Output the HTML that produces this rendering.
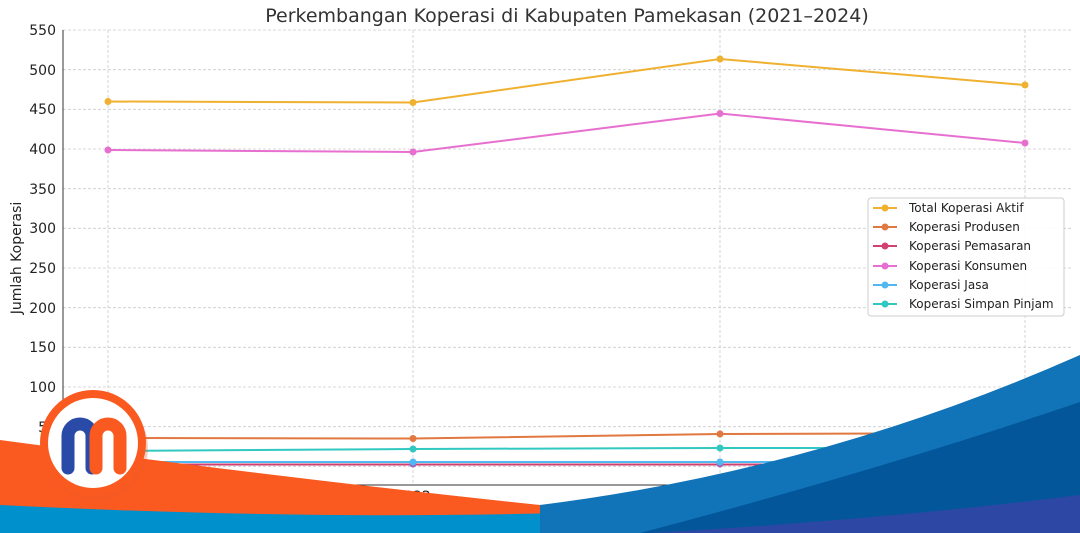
<!DOCTYPE html><html><head><style>body{margin:0;background:#fff}svg{display:block}</style></head><body>
<svg width="1080" height="533" viewBox="0 0 1080 533" xmlns="http://www.w3.org/2000/svg" font-family="DejaVu Sans, Liberation Sans, sans-serif">
<rect width="1080" height="533" fill="#fff"/>
<text x="567" y="22" font-size="19" fill="#333" text-anchor="middle">Perkembangan Koperasi di Kabupaten Pamekasan (2021–2024)</text>
<g stroke="#ccc" stroke-dasharray="3,2" stroke-width="0.8">
<line x1="63" x2="1072" y1="30" y2="30"/><line x1="63" x2="1072" y1="69.7" y2="69.7"/><line x1="63" x2="1072" y1="109.3" y2="109.3"/><line x1="63" x2="1072" y1="149" y2="149"/><line x1="63" x2="1072" y1="188.7" y2="188.7"/><line x1="63" x2="1072" y1="228.3" y2="228.3"/><line x1="63" x2="1072" y1="268" y2="268"/><line x1="63" x2="1072" y1="307.7" y2="307.7"/><line x1="63" x2="1072" y1="347.3" y2="347.3"/><line x1="63" x2="1072" y1="387" y2="387"/><line x1="63" x2="1072" y1="426.7" y2="426.7"/><line x1="63" x2="1072" y1="466.3" y2="466.3"/>
<line x1="108" x2="108" y1="30" y2="485"/><line x1="413" x2="413" y1="30" y2="485"/><line x1="720" x2="720" y1="30" y2="485"/><line x1="1025" x2="1025" y1="30" y2="485"/>
</g>
<line x1="63" y1="30" x2="63" y2="485" stroke="#333"/><line x1="63" y1="485" x2="1072" y2="485" stroke="#333"/>
<g font-size="14" fill="#222" text-anchor="end">
<text x="56" y="35">550</text><text x="56" y="75">500</text><text x="56" y="114">450</text><text x="56" y="154">400</text><text x="56" y="194">350</text><text x="56" y="233">300</text><text x="56" y="273">250</text><text x="56" y="313">200</text><text x="56" y="352">150</text><text x="56" y="392">100</text><text x="56" y="432">50</text>
</g>
<text x="413" y="501" font-size="14" fill="#222" text-anchor="middle">2022</text>
<text transform="translate(21,258) rotate(-90)" font-size="14" fill="#222" text-anchor="middle">Jumlah Koperasi</text>
<g stroke-width="2" fill="none">
<polyline stroke="#f0b030" points="108,101.5 413,102.5 720,59 1025,85"/>
<polyline stroke="#e76fd0" points="108,150 413,152 720,113.5 1025,143"/>
<polyline stroke="#e07840" points="108,438 413,438.5 720,434 1025,433"/>
<polyline stroke="#30c8c0" points="108,451 413,449 720,448 1025,448"/>
<polyline stroke="#50b8f0" points="108,462 413,462 720,462 1025,462"/>
<polyline stroke="#d04070" points="108,464.5 413,464.5 720,464.5 1025,464.5"/>
</g>
<g>
<circle cx="108" cy="101.5" r="3.5" fill="#f0b030"/><circle cx="413" cy="102.5" r="3.5" fill="#f0b030"/><circle cx="720" cy="59" r="3.5" fill="#f0b030"/><circle cx="1025" cy="85" r="3.5" fill="#f0b030"/>
<circle cx="108" cy="150" r="3.5" fill="#e76fd0"/><circle cx="413" cy="152" r="3.5" fill="#e76fd0"/><circle cx="720" cy="113.5" r="3.5" fill="#e76fd0"/><circle cx="1025" cy="143" r="3.5" fill="#e76fd0"/>
<circle cx="413" cy="438.5" r="3.5" fill="#e07840"/><circle cx="720" cy="434" r="3.5" fill="#e07840"/>
<circle cx="413" cy="449" r="3.5" fill="#30c8c0"/><circle cx="720" cy="448" r="3.5" fill="#30c8c0"/>
<circle cx="413" cy="464" r="3.5" fill="#a060c0"/><circle cx="720" cy="464" r="3.5" fill="#a060c0"/>
<circle cx="413" cy="462" r="3.5" fill="#50b8f0"/><circle cx="720" cy="462" r="3.5" fill="#50b8f0"/>
</g>
<rect x="868" y="198" width="196" height="118" rx="3" fill="#fff" fill-opacity="0.9" stroke="#ccc"/>
<g stroke-width="2" font-size="12" fill="#222">
<line x1="873" x2="897" y1="208" y2="208" stroke="#f0b030"/><circle cx="885" cy="208" r="3.5" fill="#f0b030"/><text x="909" y="212">Total Koperasi Aktif</text>
<line x1="873" x2="897" y1="227" y2="227" stroke="#e07840"/><circle cx="885" cy="227" r="3.5" fill="#e07840"/><text x="909" y="231">Koperasi Produsen</text>
<line x1="873" x2="897" y1="246" y2="246" stroke="#d04070"/><circle cx="885" cy="246" r="3.5" fill="#d04070"/><text x="909" y="250">Koperasi Pemasaran</text>
<line x1="873" x2="897" y1="266" y2="266" stroke="#e76fd0"/><circle cx="885" cy="266" r="3.5" fill="#e76fd0"/><text x="909" y="270">Koperasi Konsumen</text>
<line x1="873" x2="897" y1="285" y2="285" stroke="#50b8f0"/><circle cx="885" cy="285" r="3.5" fill="#50b8f0"/><text x="909" y="289">Koperasi Jasa</text>
<line x1="873" x2="897" y1="304" y2="304" stroke="#30c8c0"/><circle cx="885" cy="304" r="3.5" fill="#30c8c0"/><text x="909" y="308">Koperasi Simpan Pinjam</text>
</g>
<path d="M0,440 Q300,480 540,505 L540,533 L0,533 Z" fill="#fa5a20"/>
<path d="M0,505 Q300,520 560,513 L700,533 L0,533 Z" fill="#0090cc"/>
<path d="M0,530 L1080,530 L1080,533 L0,533Z" fill="#0090cc"/>
<path d="M540,505 Q820,470 1080,355 L1080,533 L540,533 Z" fill="#1274b8"/>
<path d="M640,533 Q880,470 1080,402 L1080,533 Z" fill="#04569a"/>
<path d="M650,533 Q880,520 1080,495 L1080,533 Z" fill="#2c48a4"/>
<circle cx="93" cy="445" r="53" fill="#f05a28" opacity="0.3" transform="translate(2,3)"/>
<circle cx="93" cy="443" r="53" fill="#fa5a20"/>
<circle cx="93" cy="443" r="45" fill="#fff"/>
<path d="M68,468 L68,436 A12,12 0 0 1 92,436 L92,468" stroke="#2a4aa8" stroke-width="13" fill="none" stroke-linecap="round"/>
<path d="M96,468 L96,436 A12,12 0 0 1 120,436 L120,468" stroke="#fa5a20" stroke-width="13" fill="none" stroke-linecap="round"/>
</svg>
</body></html>
